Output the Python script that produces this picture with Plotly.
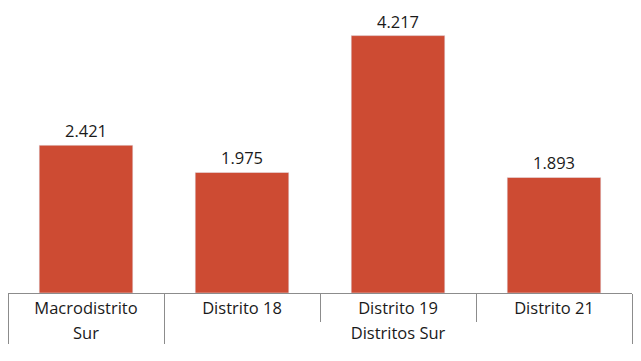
import plotly.graph_objects as go

outer = ["Sur", "Distritos Sur", "Distritos Sur", "Distritos Sur"]
inner = ["Macrodistrito", "Distrito 18", "Distrito 19", "Distrito 21"]
values = [2421, 1975, 4217, 1893]

fig = go.Figure(go.Bar(
    x=[outer, inner], y=values,
    marker_color="#CD4B33", width=0.6,
    text=values, texttemplate="%{y:,d}", textposition="outside",
    textfont=dict(size=16.5, color="#1a1a1a"), cliponaxis=False,
))
fig.update_layout(
    width=641, height=361, separators=",.",
    margin=dict(l=8, r=9, t=11, b=68, autoexpand=False),
    plot_bgcolor="white", paper_bgcolor="white",
    font=dict(family="Open Sans", size=16.5, color="#1a1a1a"),
    showlegend=False, bargap=0.4,
)
fig.update_xaxes(
    type="multicategory", showline=True, linecolor="#8c8c8c", linewidth=1,
    ticks="outside", ticklen=28, tickcolor="#8c8c8c", automargin=False,
    showdividers=True, dividercolor="#8c8c8c", dividerwidth=1,
    tickfont=dict(size=16.5, color="#1a1a1a"),
)
fig.update_yaxes(range=[0, 4620], visible=False, showgrid=False, automargin=False)
fig.write_html("out.html", config={"displayModeBar": False},
               post_script="document.body.style.margin='0';")
